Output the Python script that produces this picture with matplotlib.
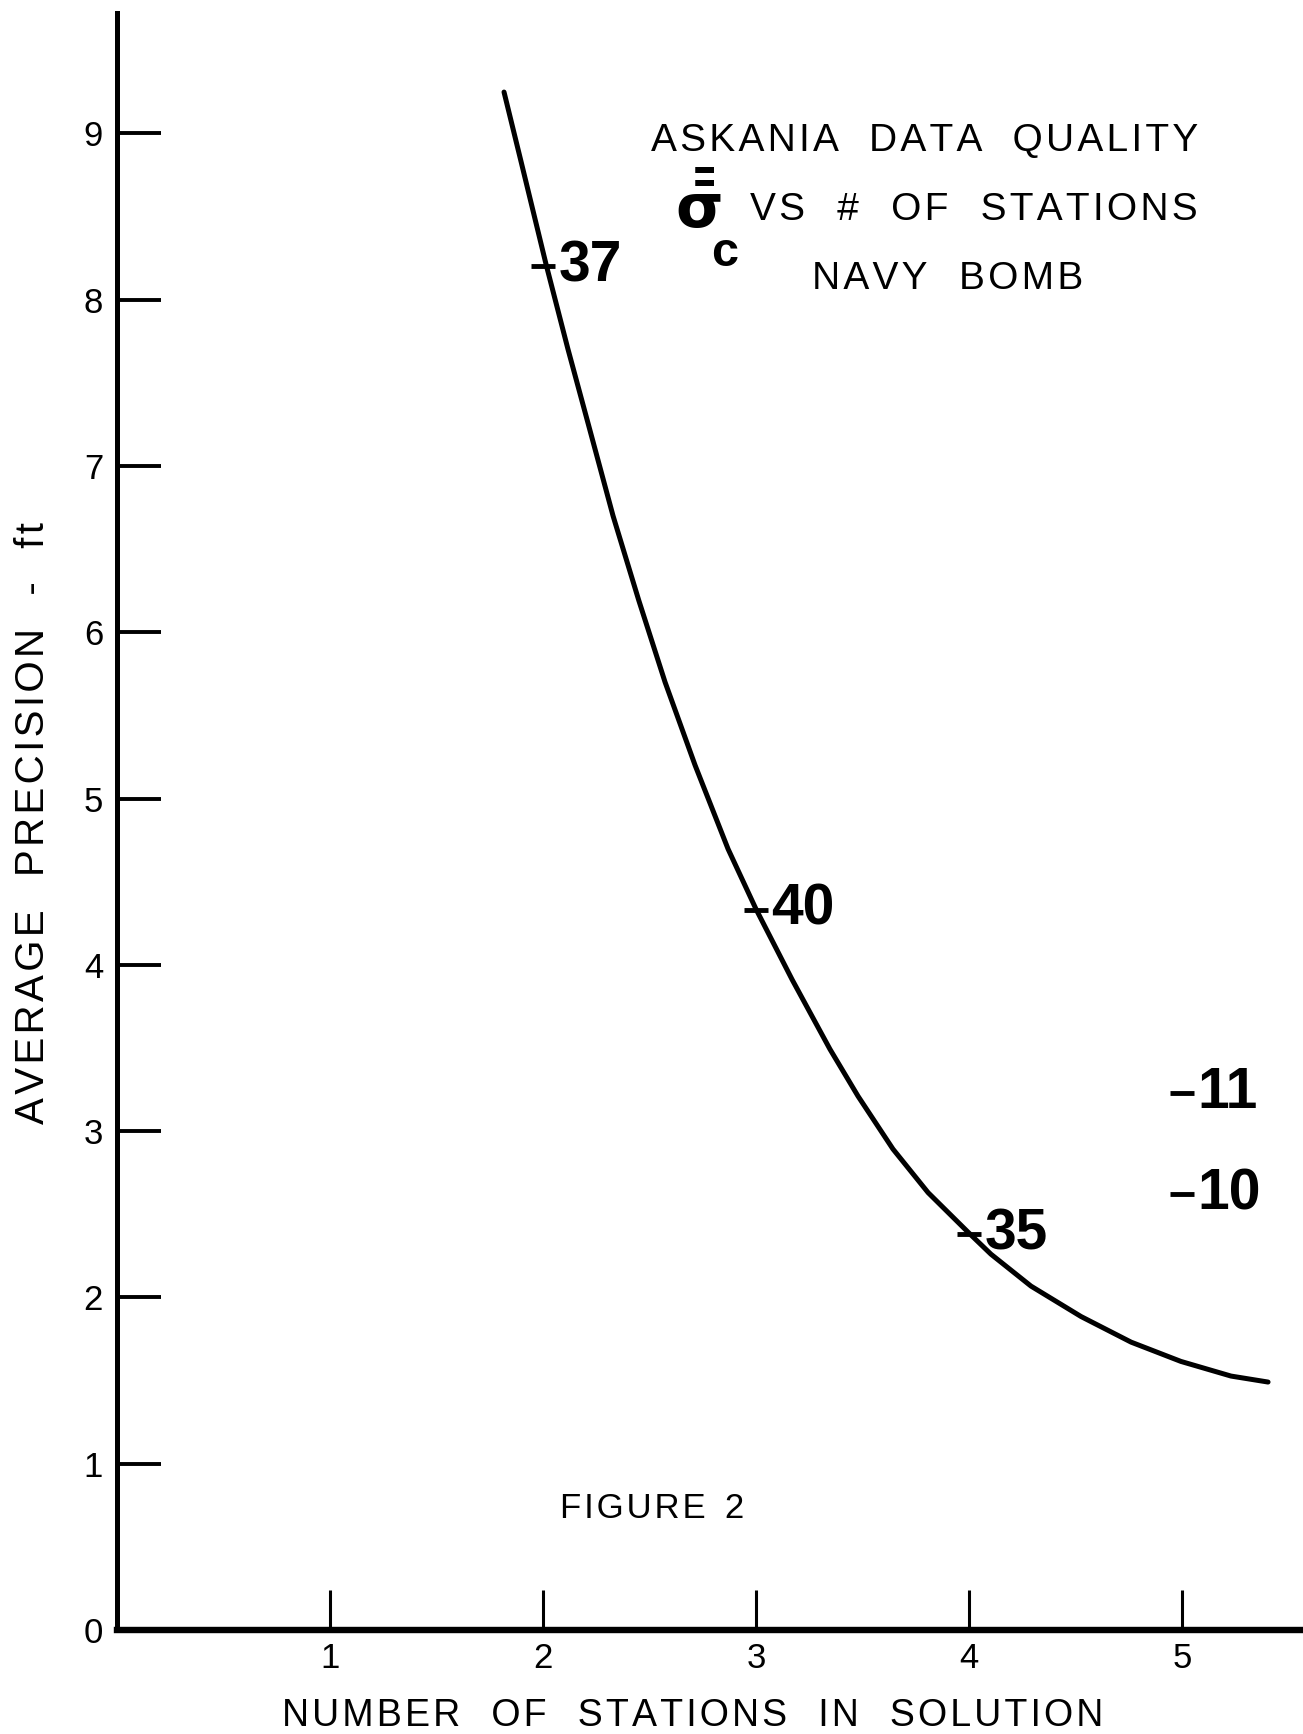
import matplotlib.pyplot as plt

# curve
curve_x = [1.817, 1.897, 2.014, 2.117, 2.215, 2.329, 2.45, 2.573, 2.714, 2.869,
           3.0, 3.17, 3.347, 3.479, 3.643, 3.808, 3.995, 4.103, 4.291, 4.526,
           4.761, 4.995, 5.23, 5.404]
curve_y = [9.248, 8.83, 8.214, 7.703, 7.24, 6.699, 6.19, 5.70, 5.20, 4.696,
           4.335, 3.91, 3.493, 3.21, 2.892, 2.63, 2.393, 2.26, 2.068, 1.885,
           1.731, 1.615, 1.527, 1.491]

# labelled points (number of samples)
pt_x = [2, 3, 4, 5, 5]
pt_y = [8.20, 4.33, 2.38, 3.23, 2.62]
pt_lbl = ["37", "40", "35", "11", "10"]

x_ticks = [1, 2, 3, 4, 5]
y_ticks = [0, 1, 2, 3, 4, 5, 6, 7, 8, 9]

FONT = ["Liberation Sans", "DejaVu Sans"]
plt.rcParams["font.family"] = FONT
plt.rcParams["mathtext.fontset"] = "dejavusans"


def spaced(s, gap="\u200a", word_gap="   "):
    return word_gap.join(gap.join(w) for w in s.split())


fig = plt.figure(figsize=(13.03, 17.34), dpi=100)
ax = fig.add_axes([117 / 1303, 104 / 1734, 1186 / 1303, 1617 / 1734])

ax.plot(curve_x, curve_y, color="black", lw=3.6, solid_capstyle="round",
        solid_joinstyle="round")
ax.plot(pt_x, pt_y, ls="none", marker="_", ms=17, mew=3.5, color="black")
for x, y, s in zip(pt_x, pt_y, pt_lbl):
    ax.annotate(s, (x, y), xytext=(11, 0), textcoords="offset points",
                ha="left", va="center", fontsize=41, fontweight="bold")

ax.set_xlim(0, 1186 / 213)
ax.set_ylim(0, 1617 / 166.3)
ax.set_xticks(x_ticks)
ax.set_yticks(y_ticks)
ax.set_xticklabels([str(v) for v in x_ticks])
ax.set_yticklabels([str(v) for v in y_ticks])
ax.tick_params(axis="y", direction="in", length=32, width=2.8, labelsize=25, pad=10)
ax.tick_params(axis="x", direction="in", length=29, width=2.2, labelsize=25, pad=9)

for side in ["top", "right"]:
    ax.spines[side].set_visible(False)
ax.spines["left"].set_linewidth(3.6)
ax.spines["bottom"].set_linewidth(4.6)

# titles and labels
fig.text(1198 / 1303, 1 - 141 / 1734, spaced("ASKANIA DATA QUALITY"),
         ha="right", va="center", fontsize=28)
# sigma with double overbar, big subscript c below right
fig.text(698 / 1303, 1 - 228 / 1734, r"$\mathbf{\bar{\bar{\sigma}}}$",
         ha="center", va="baseline", fontsize=44)
fig.text(725 / 1303, 1 - 254 / 1734, "c", ha="center", va="center",
         fontsize=35, fontweight="bold")
fig.text(1198 / 1303, 1 - 210 / 1734, spaced("VS # OF STATIONS"),
         ha="right", va="center", fontsize=28)
fig.text(948 / 1303, 1 - 279 / 1734, spaced("NAVY BOMB"),
         ha="center", va="center", fontsize=28)
fig.text(652 / 1303, 1 - 1508 / 1734, spaced("FIGURE 2", word_gap="  "),
         ha="center", va="center", fontsize=25)

fig.text(693 / 1303, 1 - 1716 / 1734, spaced("NUMBER OF STATIONS IN SOLUTION"),
         ha="center", va="center", fontsize=27)
fig.text(33 / 1303, 1 - 823 / 1734, spaced("AVERAGE PRECISION - ft"),
         ha="center", va="center", rotation=90, fontsize=29)

fig.savefig("out.png", dpi=100)
